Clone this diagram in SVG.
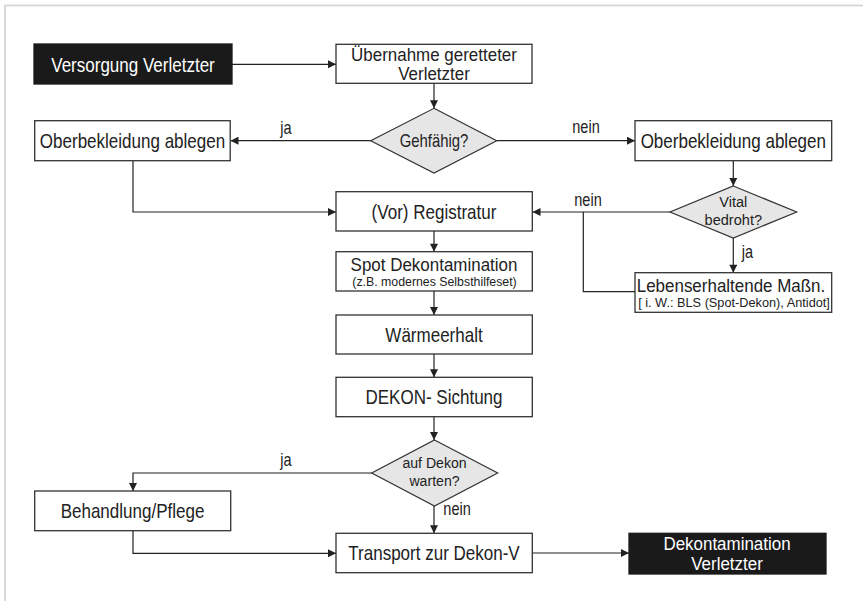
<svg xmlns="http://www.w3.org/2000/svg" width="863" height="601" viewBox="0 0 863 601">
<style>
.box{fill:#fff;stroke:#333;stroke-width:1.3}
.dark{fill:#1a1a1a;stroke:#1a1a1a;stroke-width:1.3}
.dia{fill:#e6e6e6;stroke:#333;stroke-width:1.2}
.t{font-family:"Liberation Sans",Arial,sans-serif;font-size:20.5px;fill:#222;text-anchor:middle}
.t2{font-family:"Liberation Sans",Arial,sans-serif;font-size:17.5px;fill:#222;text-anchor:middle}
.w{fill:#fff}
.s{font-family:"Liberation Sans",Arial,sans-serif;font-size:17.5px;fill:#222;text-anchor:middle}
.s2{font-family:"Liberation Sans",Arial,sans-serif;font-size:15px;fill:#222;text-anchor:middle}
.xs{font-family:"Liberation Sans",Arial,sans-serif;font-size:13px;fill:#222;text-anchor:middle}
.st{text-anchor:start}
.c{fill:none;stroke:#222;stroke-width:1.2}
</style>
<defs>
<marker id="ah" viewBox="0 0 10 10" refX="10" refY="5" markerUnits="userSpaceOnUse" markerWidth="9" markerHeight="8" orient="auto">
<path d="M0,0 L10,5 L0,10 z" fill="#222"/>
</marker>
</defs>
<rect x="5" y="5.5" width="900" height="700" fill="none" stroke="#d6d6d6" stroke-width="1.8"/>

<g id="connectors">
<path class="c" d="M232,64.3 H336" marker-end="url(#ah)"/>
<path class="c" d="M434,83.5 V108.3" marker-end="url(#ah)"/>
<path class="c" d="M370.7,140.7 H230.5" marker-end="url(#ah)"/>
<path class="c" d="M496.7,140.7 H635" marker-end="url(#ah)"/>
<path class="c" d="M133,160.7 V212 H336" marker-end="url(#ah)"/>
<path class="c" d="M733.3,160.7 V186" marker-end="url(#ah)"/>
<path class="c" d="M670,212 H532.5" marker-end="url(#ah)"/>
<path class="c" d="M583.3,212 V291.7 H635"/>
<path class="c" d="M733.3,238 V272.7" marker-end="url(#ah)"/>
<path class="c" d="M434,231 V251.7" marker-end="url(#ah)"/>
<path class="c" d="M434,291 V315" marker-end="url(#ah)"/>
<path class="c" d="M434,354 V377.3" marker-end="url(#ah)"/>
<path class="c" d="M434,416.7 V440" marker-end="url(#ah)"/>
<path class="c" d="M371.7,473 H133 V491" marker-end="url(#ah)"/>
<path class="c" d="M434,506 V533.3" marker-end="url(#ah)"/>
<path class="c" d="M133,530.7 V553.3 H336" marker-end="url(#ah)"/>
<path class="c" d="M532,553 H629" marker-end="url(#ah)"/>
<text class="s" transform="translate(286,134) scale(0.83,1)">ja</text>
<text class="s" transform="translate(586,133) scale(0.83,1)">nein</text>
<text class="s" transform="translate(588,206) scale(0.83,1)">nein</text>
<text class="s st" transform="translate(741.7,258) scale(0.83,1)">ja</text>
<text class="s" transform="translate(286,466) scale(0.83,1)">ja</text>
<text class="s st" transform="translate(443.3,515) scale(0.83,1)">nein</text>
</g>

<g id="versorgung">
<rect class="dark" x="34" y="44" width="198" height="40"/>
<text class="t w" transform="translate(133,71.5) scale(0.83,1)">Versorgung Verletzter</text>
</g>
<g id="uebernahme">
<rect class="box" x="336" y="44.3" width="196" height="39"/>
<text class="t2" transform="translate(434,60.5) scale(0.97,1)">Übernahme geretteter</text>
<text class="t2" transform="translate(434,80) scale(0.97,1)">Verletzter</text>
</g>
<g id="gehfaehig">
<polygon class="dia" points="434,108.3 496.7,140.7 434,173 370.7,140.7"/>
<text class="s" transform="translate(434,146.5) scale(0.85,1)">Gehfähig?</text>
</g>
<g id="oberbekleidung-links">
<rect class="box" x="34.7" y="120.7" width="195.5" height="40"/>
<text class="t" transform="translate(132.5,148.3) scale(0.83,1)">Oberbekleidung ablegen</text>
</g>
<g id="oberbekleidung-rechts">
<rect class="box" x="635" y="120.7" width="196.7" height="40"/>
<text class="t" transform="translate(733.3,148.3) scale(0.83,1)">Oberbekleidung ablegen</text>
</g>
<g id="vital">
<polygon class="dia" points="733.3,186 796.7,212 733.3,238 670,212"/>
<text class="s2" transform="translate(733.3,207) scale(0.97,1)">Vital</text>
<text class="s2" transform="translate(733.3,224.5) scale(0.97,1)">bedroht?</text>
</g>
<g id="registratur">
<rect class="box" x="336" y="191.7" width="196.3" height="39.3"/>
<text class="t" transform="translate(434,218.5) scale(0.83,1)">(Vor) Registratur</text>
</g>
<g id="lebenserhaltend">
<rect class="box" x="635" y="272.7" width="196.7" height="39.6"/>
<text class="t2" transform="translate(731,291.5) scale(0.97,1)">Lebenserhaltende Maßn.</text>
<text class="xs" transform="translate(734,307) scale(0.98,1)">[ i. W.: BLS (Spot-Dekon), Antidot]</text>
</g>
<g id="spot">
<rect class="box" x="336" y="251.7" width="196.3" height="39.3"/>
<text class="t2" transform="translate(434,270.5) scale(0.97,1)">Spot Dekontamination</text>
<text class="xs" transform="translate(434.5,286) scale(0.95,1)">(z.B. modernes Selbsthilfeset)</text>
</g>
<g id="waermeerhalt">
<rect class="box" x="336" y="315" width="196.3" height="39"/>
<text class="t" transform="translate(434,341.5) scale(0.83,1)">Wärmeerhalt</text>
</g>
<g id="sichtung">
<rect class="box" x="336" y="377.3" width="196.3" height="39.4"/>
<text class="t" transform="translate(434,403.5) scale(0.83,1)">DEKON- Sichtung</text>
</g>
<g id="warten">
<polygon class="dia" points="434.5,440 497.7,473 434.5,506 371.7,473"/>
<text class="s2" transform="translate(434.5,467.5) scale(0.94,1)">auf Dekon</text>
<text class="s2" transform="translate(434.5,486) scale(0.94,1)">warten?</text>
</g>
<g id="behandlung">
<rect class="box" x="34.7" y="491" width="196" height="39.7"/>
<text class="t" transform="translate(132.5,517.5) scale(0.83,1)">Behandlung/Pflege</text>
</g>
<g id="transport">
<rect class="box" x="336" y="533.3" width="196.3" height="39.4"/>
<text class="t" transform="translate(434,560) scale(0.83,1)">Transport zur Dekon-V</text>
</g>
<g id="dekontamination">
<rect class="dark" x="629" y="533.3" width="197" height="40.7"/>
<text class="t2 w" transform="translate(727,549.5) scale(0.97,1)">Dekontamination</text>
<text class="t2 w" transform="translate(727,569.5) scale(0.97,1)">Verletzter</text>
</g>
</svg>
